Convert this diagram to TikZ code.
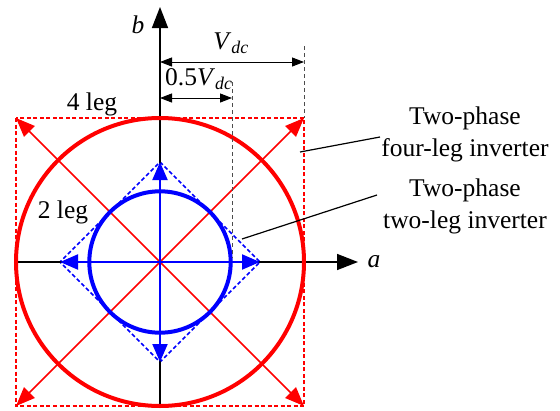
\documentclass[tikz,border=0pt]{standalone}
\usepackage{fontspec}
\setmainfont{Liberation Serif}
\usetikzlibrary{arrows.meta}
\tikzset{
  axtip/.style={-{Triangle[length=21pt,width=16pt]}},
  redtip/.style={-{Triangle[length=19pt,width=15pt]}},
  bluetip/.style={-{Triangle[length=18pt,width=15pt]}},
  axis/.style={black,line width=1.5pt},
  redthin/.style={red,line width=1.5pt},
  bluethin/.style={blue,line width=2pt},
  dimline/.style={black,line width=1pt,{Triangle[length=12pt,width=9pt]}-{Triangle[length=12pt,width=9pt]}},
  guide/.style={gray!60!black,line width=0.8pt,dash pattern=on 4pt off 3pt},
  lbl/.style={font=\fontsize{25.5}{32}\selectfont,inner sep=0pt,align=center},
  leader/.style={black,line width=1.2pt}
}
\begin{document}
\begin{tikzpicture}[x=1pt,y=-1pt]
\useasboundingbox (0,0) rectangle (560,410);
\coordinate (O) at (160,262);
% red dashed square
\draw[red,line width=1.6pt,dash pattern=on 4pt off 2.5pt] (16,118) rectangle (304,406);
% blue dashed diamond
\draw[blue,line width=1.6pt,dash pattern=on 4pt off 2.5pt] (160,162) -- (260,262) -- (160,362) -- (60,262) -- cycle;
% axes
\coordinate (aL) at (16,262);
\coordinate (aR) at (358,262);
\coordinate (bB) at (160,406);
\coordinate (bT) at (160,7);
\draw[axis,axtip] (aL) -- (aR);
\draw[axis,axtip] (bB) -- (bT);
% red diagonals
\coordinate (c1) at (16,118);
\coordinate (c2) at (304,118);
\coordinate (c3) at (16,406);
\coordinate (c4) at (304,406);
\foreach \c in {c1,c2,c3,c4} \draw[redthin,redtip] (O) -- (\c);
% circles
\draw[red,line width=4pt] (O) circle[radius=144];
\draw[blue,line width=4pt] (O) circle[radius=70.7];
% blue arrows
\coordinate (d1) at (160,162);
\coordinate (d2) at (260,262);
\coordinate (d3) at (160,362);
\coordinate (d4) at (60,262);
\foreach \c in {d1,d2,d3,d4} \draw[bluethin,bluetip] (O) -- (\c);
% guide lines
\coordinate (g1t) at (304,46);
\coordinate (g1b) at (304,118);
\coordinate (g2t) at (232,82);
\coordinate (g2b) at (232,258);
\draw[guide] (g1t) -- (g1b);
\draw[guide] (g2t) -- (g2b);
% dimension arrows
\coordinate (v1a) at (160,62);
\coordinate (v1b) at (304,62);
\coordinate (v2a) at (160,98);
\coordinate (v2b) at (232,98);
\draw[dimline] (v1a) -- (v1b);
\draw[dimline] (v2a) -- (v2b);
% labels
\node[lbl] (lb) at (138,25) {\textit{b}};
\node[lbl] (la) at (374,262) {\textit{a}};
\node[lbl] (lv) at (231,43) {\textit{V}\textsubscript{\textit{dc}}};
\node[lbl,anchor=west] (lhv) at (165,79) {0.5\textit{V}\textsubscript{\textit{dc}}};
\node[lbl] (l4) at (92,104) {4 leg};
\node[lbl] (l2) at (63,212) {2 leg};
\node[lbl] (t4) at (465,134) {Two-phase\\four-leg inverter};
\node[lbl] (t2) at (465,206) {Two-phase\\two-leg inverter};
% leaders
\coordinate (p4) at (300,152);
\coordinate (q4) at (380,137);
\coordinate (p2) at (242,239);
\coordinate (q2) at (377,195);
\draw[leader] (p4) -- (q4);
\draw[leader] (p2) -- (q2);
\end{tikzpicture}
\end{document}
